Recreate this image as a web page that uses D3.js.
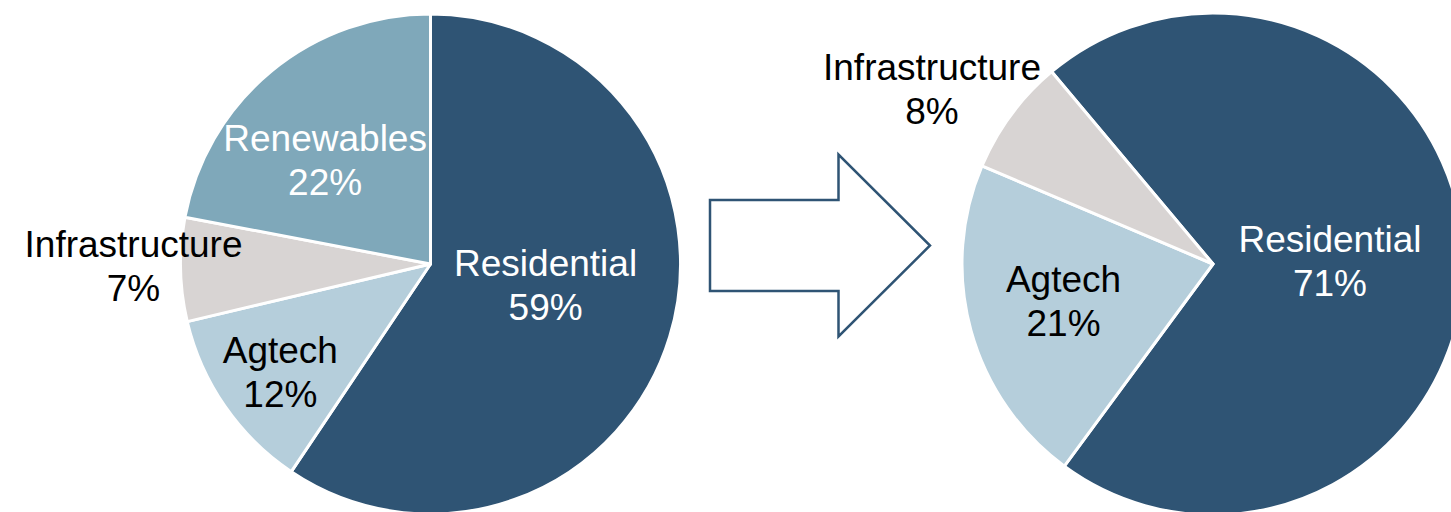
<!DOCTYPE html>
<html>
<head>
<meta charset="utf-8">
<script src="https://cdn.jsdelivr.net/npm/d3@7"></script>
<style>
  html, body { margin: 0; padding: 0; background: #fff; }
  svg { display: block; }
</style>
</head>
<body>
<div id="chart"></div>
<script>
// data (shares in %, labels show rounded values)
const beforeCategories = ["Residential", "Agtech", "Infrastructure", "Renewables"];
const beforeValues = [59.4, 11.9, 6.7, 22.0];
const afterCategories = ["Residential", "Agtech", "Infrastructure"];
const afterValues = [71.2, 21.3, 7.5];

// label placement (distance from centre, angle nudge in degrees)
const beforeLabelDist = [117, 185, 297, 148];
const beforeLabelNudge = [-6.6, -1, 0.9, -5.8];
const afterLabelDist = [117, 154, 331];
const afterLabelNudge = [0.3, 1.4, -4.6];

const colors = {
  "Residential": "#2f5474",
  "Agtech": "#b5cedb",
  "Infrastructure": "#d8d4d3",
  "Renewables": "#7fa8ba"
};
const textColors = {
  "Residential": "#fff",
  "Agtech": "#000",
  "Infrastructure": "#000",
  "Renewables": "#fff"
};

const width = 1451, height = 512;

const svg = d3.select("#chart").append("svg")
  .attr("width", width)
  .attr("height", height);

function drawPie(cx, cy, r, cats, vals, startDeg, labelDist, labelNudge) {
  const data = cats.map((c, i) => ({ cat: c, value: vals[i], i: i }));
  const start = startDeg * Math.PI / 180;

  const pie = d3.pie()
    .sort(null)
    .value(d => d.value)
    .startAngle(start)
    .endAngle(start + 2 * Math.PI);

  const arc = d3.arc().innerRadius(0).outerRadius(r);

  const g = svg.append("g").attr("transform", `translate(${cx},${cy})`);

  const arcs = pie(data);

  g.selectAll("path")
    .data(arcs)
    .join("path")
    .attr("d", arc)
    .attr("fill", d => colors[d.data.cat])
    .attr("stroke", "#fff")
    .attr("stroke-width", 3)
    .attr("stroke-linejoin", "round");

  const labels = g.selectAll("text.lbl")
    .data(arcs)
    .join("text")
    .attr("class", "lbl")
    .attr("text-anchor", "middle")
    .style("font-family", "'Liberation Sans', Arial, sans-serif")
    .style("font-size", "37px")
    .attr("fill", d => textColors[d.data.cat])
    .attr("transform", d => {
      const a = (d.startAngle + d.endAngle) / 2 + labelNudge[d.data.i] * Math.PI / 180;
      const dist = labelDist[d.data.i];
      return `translate(${Math.sin(a) * dist},${-Math.cos(a) * dist})`;
    });

  labels.append("tspan")
    .attr("x", 0)
    .attr("y", -9)
    .text(d => d.data.cat);

  labels.append("tspan")
    .attr("x", 0)
    .attr("y", 35)
    .text(d => Math.round(d.data.value) + "%");
}

drawPie(430.5, 264, 250, beforeCategories, beforeValues, 0, beforeLabelDist, beforeLabelNudge);
drawPie(1213, 264, 251, afterCategories, afterValues, -40, afterLabelDist, afterLabelNudge);

// block arrow between the two pies
const ax0 = 710, ax1 = 838.5, ax2 = 930;
const ayMid = 245.5, bodyHalf = 45.5, headHalf = 91;
const arrowPts = [
  [ax0, ayMid - bodyHalf],
  [ax1, ayMid - bodyHalf],
  [ax1, ayMid - headHalf],
  [ax2, ayMid],
  [ax1, ayMid + headHalf],
  [ax1, ayMid + bodyHalf],
  [ax0, ayMid + bodyHalf]
];
svg.append("path")
  .attr("d", d3.line()(arrowPts) + "Z")
  .attr("fill", "#fff")
  .attr("stroke", "#2f5474")
  .attr("stroke-width", 2.5)
  .attr("stroke-linejoin", "miter");
</script>
</body>
</html>
